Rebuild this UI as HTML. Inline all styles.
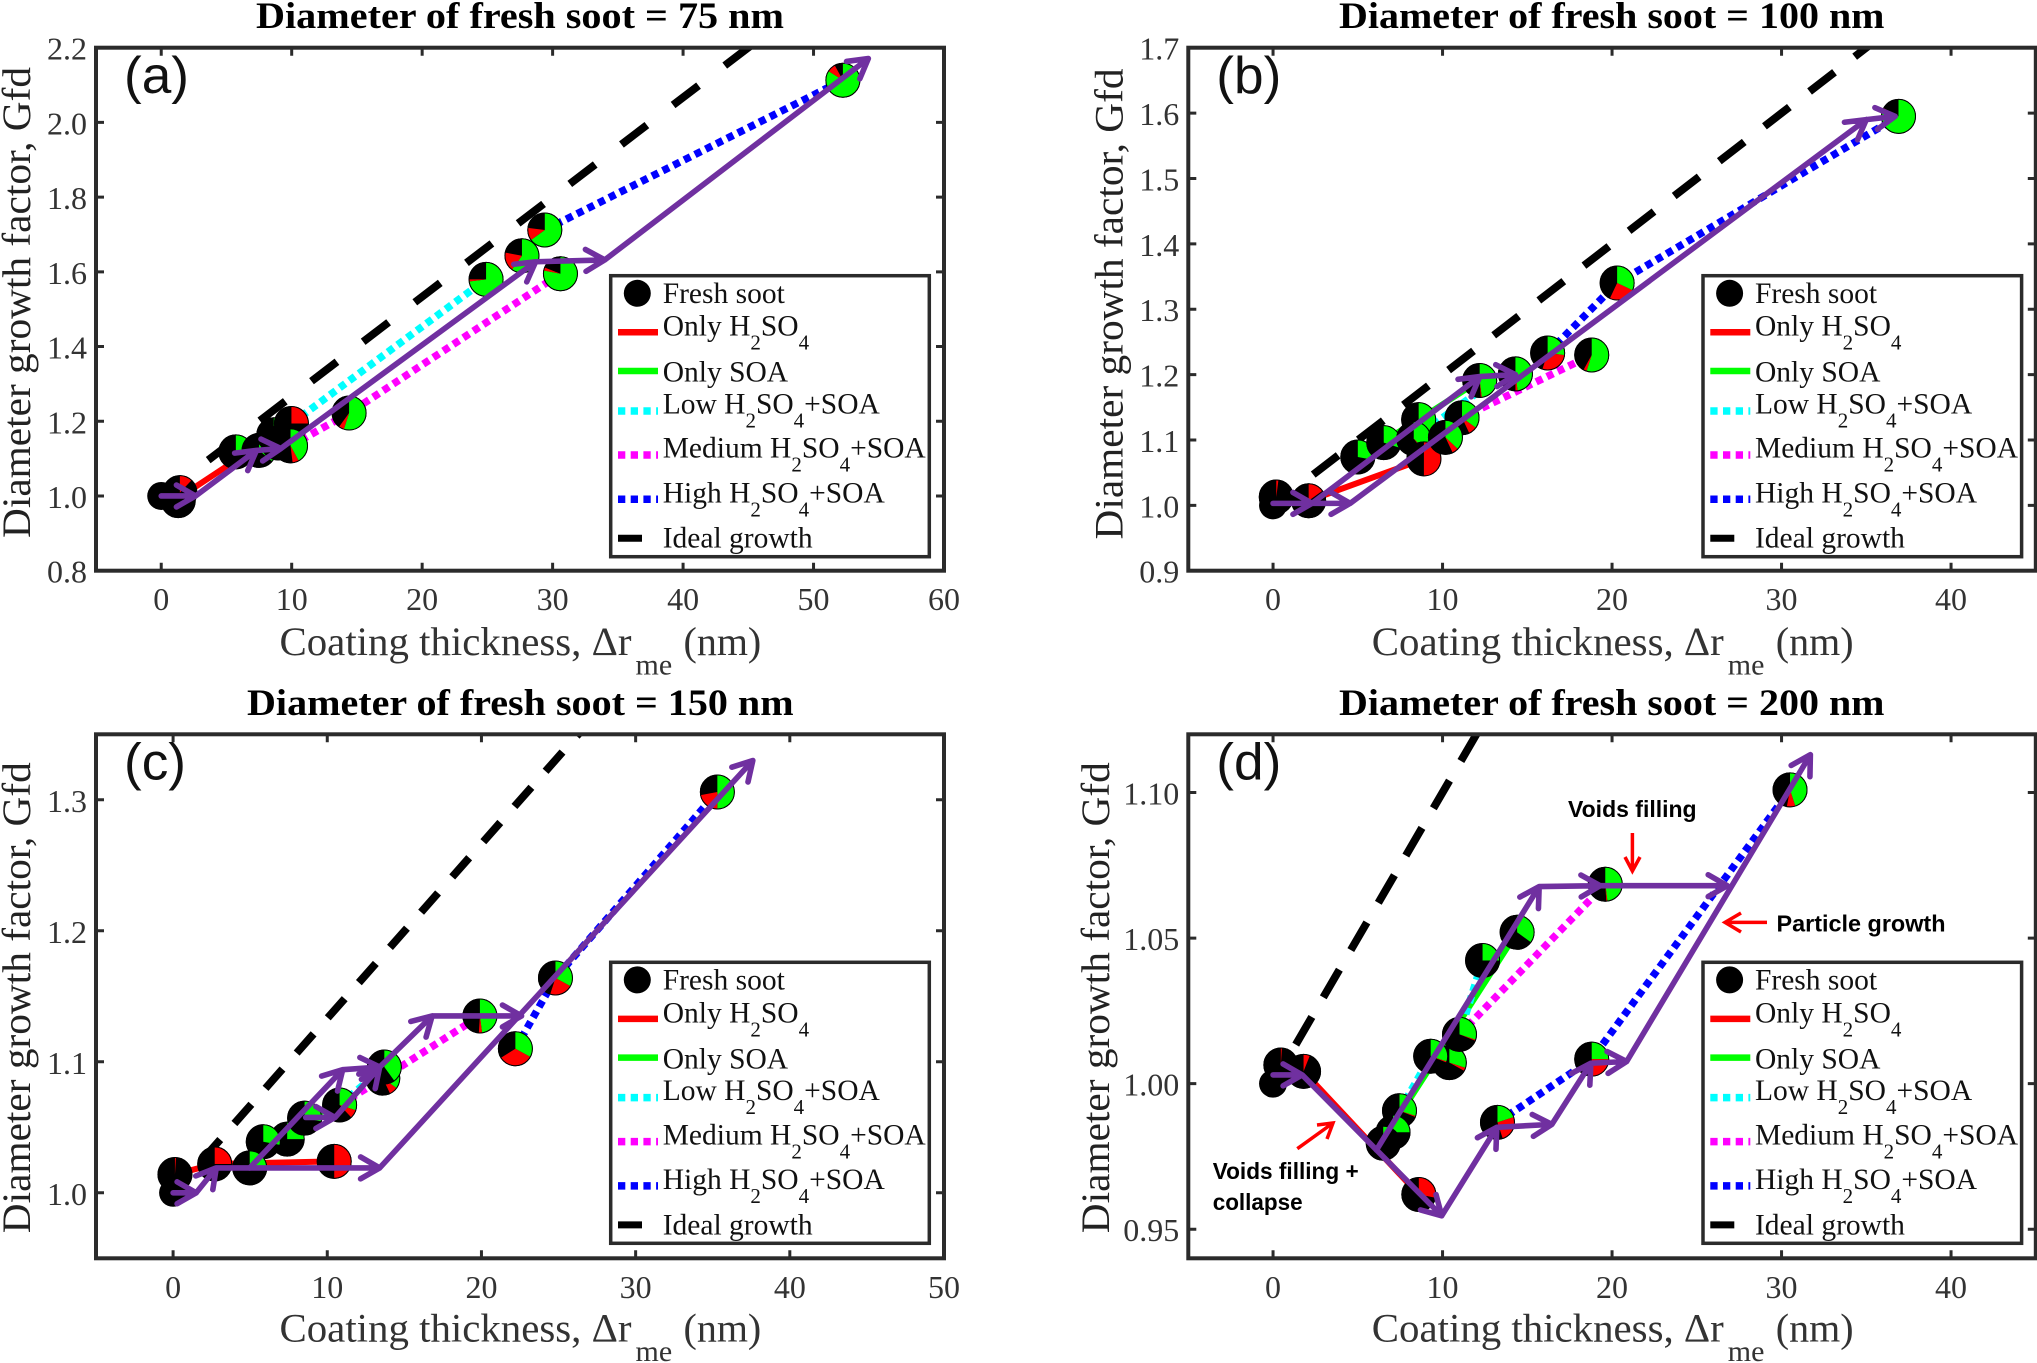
<!DOCTYPE html>
<html lang="en">
<head>
<meta charset="utf-8">
<title>Diameter growth factor vs coating thickness</title>
<style>
html,body{margin:0;padding:0;background:#fff}
svg{display:block}
text{font-family:"Liberation Serif",serif}
.title{font-size:37px;font-weight:bold;fill:#000}
.xl{font-size:40px;fill:#333}
.xs{font-size:30px;fill:#333}
.yl{font-size:40px;fill:#222}
.letter{font-family:"Liberation Sans",sans-serif;font-size:52px;fill:#111}
.lg{font-size:29.5px;fill:#111}
.note{font-family:"Liberation Sans",sans-serif;font-weight:bold;font-size:23px;fill:#000}
</style>
</head>
<body>
<svg id="figure" xmlns="http://www.w3.org/2000/svg" width="2037" height="1363" viewBox="0 0 2037 1363">
<defs>
<clipPath id="clip-a"><rect x="96" y="47.7" width="848" height="523"/></clipPath>
<clipPath id="clip-b"><rect x="1188.3" y="47.7" width="847.5" height="523"/></clipPath>
<clipPath id="clip-c"><rect x="96" y="734.3" width="848" height="524"/></clipPath>
<clipPath id="clip-d"><rect x="1188.3" y="734.3" width="847.5" height="524"/></clipPath>
</defs>

<!-- PANEL A -->
<g>
<text class="title" x="256" y="28" textLength="528" lengthAdjust="spacingAndGlyphs">Diameter of fresh soot = 75 nm</text>
<g id="marks-a"></g>
<text class="letter" x="124" y="93" textLength="65" lengthAdjust="spacingAndGlyphs">(a)</text>
<text class="xl" x="279.5" y="655" textLength="352" lengthAdjust="spacingAndGlyphs">Coating thickness, Δr</text>
<text class="xs" x="635.5" y="674.5">me</text>
<text class="xl" x="683.5" y="655">(nm)</text>
<text class="yl" transform="translate(30,302.5) rotate(-90)" text-anchor="middle" textLength="471" lengthAdjust="spacingAndGlyphs">Diameter growth factor, Gfd</text>
<g>
<rect x="610.7" y="275.7" width="318.6" height="281" fill="#fff" stroke="#2b2b2b" stroke-width="3.5"/>
<circle cx="637.3" cy="293.3" r="13.5" fill="#000"/>
<text class="lg" x="662.7" y="303">Fresh soot</text>
<line x1="618" x2="658" y1="332.3" y2="332.3" stroke="#f00" stroke-width="6.5"/>
<text class="lg" x="662.7" y="335.7">Only H<tspan dy="14" font-size="21">2</tspan><tspan dy="-14">SO</tspan><tspan dy="14" font-size="21">4</tspan></text>
<line x1="618" x2="658" y1="371" y2="371" stroke="#0f0" stroke-width="6.5"/>
<text class="lg" x="662.7" y="381.7">Only SOA</text>
<line x1="618" x2="658" y1="411" y2="411" stroke="#0ff" stroke-width="7.5" stroke-dasharray="7.3 5.4"/>
<text class="lg" x="662.7" y="413.3">Low H<tspan dy="14" font-size="21">2</tspan><tspan dy="-14">SO</tspan><tspan dy="14" font-size="21">4</tspan><tspan dy="-14">+SOA</tspan></text>
<line x1="618" x2="658" y1="455" y2="455" stroke="#f0f" stroke-width="7.5" stroke-dasharray="7.3 5.4"/>
<text class="lg" x="662.7" y="457.7">Medium H<tspan dy="14" font-size="21">2</tspan><tspan dy="-14">SO</tspan><tspan dy="14" font-size="21">4</tspan><tspan dy="-14">+SOA</tspan></text>
<line x1="618" x2="658" y1="499.3" y2="499.3" stroke="#00f" stroke-width="7.5" stroke-dasharray="7.3 5.4"/>
<text class="lg" x="662.7" y="502.3">High H<tspan dy="14" font-size="21">2</tspan><tspan dy="-14">SO</tspan><tspan dy="14" font-size="21">4</tspan><tspan dy="-14">+SOA</tspan></text>
<line x1="618" x2="642" y1="538.3" y2="538.3" stroke="#000" stroke-width="7"/>
<text class="lg" x="662.7" y="547.7">Ideal growth</text>
</g>
</g>

<!-- PANEL B -->
<g>
<text class="title" x="1339" y="28" textLength="545.5" lengthAdjust="spacingAndGlyphs">Diameter of fresh soot = 100 nm</text>
<g id="marks-b"></g>
<text class="letter" x="1216.3" y="93" textLength="65" lengthAdjust="spacingAndGlyphs">(b)</text>
<text class="xl" x="1371.8" y="655" textLength="352" lengthAdjust="spacingAndGlyphs">Coating thickness, Δr</text>
<text class="xs" x="1727.8" y="674.5">me</text>
<text class="xl" x="1775.8" y="655">(nm)</text>
<text class="yl" transform="translate(1122.6,304) rotate(-90)" text-anchor="middle" textLength="471" lengthAdjust="spacingAndGlyphs">Diameter growth factor, Gfd</text>
<g transform="translate(1092.3,0)">
<rect x="610.7" y="275.7" width="318.6" height="281" fill="#fff" stroke="#2b2b2b" stroke-width="3.5"/>
<circle cx="637.3" cy="293.3" r="13.5" fill="#000"/>
<text class="lg" x="662.7" y="303">Fresh soot</text>
<line x1="618" x2="658" y1="332.3" y2="332.3" stroke="#f00" stroke-width="6.5"/>
<text class="lg" x="662.7" y="335.7">Only H<tspan dy="14" font-size="21">2</tspan><tspan dy="-14">SO</tspan><tspan dy="14" font-size="21">4</tspan></text>
<line x1="618" x2="658" y1="371" y2="371" stroke="#0f0" stroke-width="6.5"/>
<text class="lg" x="662.7" y="381.7">Only SOA</text>
<line x1="618" x2="658" y1="411" y2="411" stroke="#0ff" stroke-width="7.5" stroke-dasharray="7.3 5.4"/>
<text class="lg" x="662.7" y="413.3">Low H<tspan dy="14" font-size="21">2</tspan><tspan dy="-14">SO</tspan><tspan dy="14" font-size="21">4</tspan><tspan dy="-14">+SOA</tspan></text>
<line x1="618" x2="658" y1="455" y2="455" stroke="#f0f" stroke-width="7.5" stroke-dasharray="7.3 5.4"/>
<text class="lg" x="662.7" y="457.7">Medium H<tspan dy="14" font-size="21">2</tspan><tspan dy="-14">SO</tspan><tspan dy="14" font-size="21">4</tspan><tspan dy="-14">+SOA</tspan></text>
<line x1="618" x2="658" y1="499.3" y2="499.3" stroke="#00f" stroke-width="7.5" stroke-dasharray="7.3 5.4"/>
<text class="lg" x="662.7" y="502.3">High H<tspan dy="14" font-size="21">2</tspan><tspan dy="-14">SO</tspan><tspan dy="14" font-size="21">4</tspan><tspan dy="-14">+SOA</tspan></text>
<line x1="618" x2="642" y1="538.3" y2="538.3" stroke="#000" stroke-width="7"/>
<text class="lg" x="662.7" y="547.7">Ideal growth</text>
</g>
</g>

<!-- PANEL C -->
<g>
<text class="title" x="247" y="714.8" textLength="546.6" lengthAdjust="spacingAndGlyphs">Diameter of fresh soot = 150 nm</text>
<g id="marks-c"></g>
<text class="letter" x="124" y="779.5" textLength="62" lengthAdjust="spacingAndGlyphs">(c)</text>
<text class="xl" x="279.5" y="1341.6" textLength="352" lengthAdjust="spacingAndGlyphs">Coating thickness, Δr</text>
<text class="xs" x="635.5" y="1361">me</text>
<text class="xl" x="683.5" y="1341.6">(nm)</text>
<text class="yl" transform="translate(30,997.7) rotate(-90)" text-anchor="middle" textLength="471" lengthAdjust="spacingAndGlyphs">Diameter growth factor, Gfd</text>
<g transform="translate(0,686.6)">
<rect x="610.7" y="275.7" width="318.6" height="281" fill="#fff" stroke="#2b2b2b" stroke-width="3.5"/>
<circle cx="637.3" cy="293.3" r="13.5" fill="#000"/>
<text class="lg" x="662.7" y="303">Fresh soot</text>
<line x1="618" x2="658" y1="332.3" y2="332.3" stroke="#f00" stroke-width="6.5"/>
<text class="lg" x="662.7" y="335.7">Only H<tspan dy="14" font-size="21">2</tspan><tspan dy="-14">SO</tspan><tspan dy="14" font-size="21">4</tspan></text>
<line x1="618" x2="658" y1="371" y2="371" stroke="#0f0" stroke-width="6.5"/>
<text class="lg" x="662.7" y="381.7">Only SOA</text>
<line x1="618" x2="658" y1="411" y2="411" stroke="#0ff" stroke-width="7.5" stroke-dasharray="7.3 5.4"/>
<text class="lg" x="662.7" y="413.3">Low H<tspan dy="14" font-size="21">2</tspan><tspan dy="-14">SO</tspan><tspan dy="14" font-size="21">4</tspan><tspan dy="-14">+SOA</tspan></text>
<line x1="618" x2="658" y1="455" y2="455" stroke="#f0f" stroke-width="7.5" stroke-dasharray="7.3 5.4"/>
<text class="lg" x="662.7" y="457.7">Medium H<tspan dy="14" font-size="21">2</tspan><tspan dy="-14">SO</tspan><tspan dy="14" font-size="21">4</tspan><tspan dy="-14">+SOA</tspan></text>
<line x1="618" x2="658" y1="499.3" y2="499.3" stroke="#00f" stroke-width="7.5" stroke-dasharray="7.3 5.4"/>
<text class="lg" x="662.7" y="502.3">High H<tspan dy="14" font-size="21">2</tspan><tspan dy="-14">SO</tspan><tspan dy="14" font-size="21">4</tspan><tspan dy="-14">+SOA</tspan></text>
<line x1="618" x2="642" y1="538.3" y2="538.3" stroke="#000" stroke-width="7"/>
<text class="lg" x="662.7" y="547.7">Ideal growth</text>
</g>
</g>

<!-- PANEL D -->
<g>
<text class="title" x="1339" y="714.8" textLength="545.5" lengthAdjust="spacingAndGlyphs">Diameter of fresh soot = 200 nm</text>
<g id="marks-d"></g>
<text class="letter" x="1216.3" y="779.5" textLength="65" lengthAdjust="spacingAndGlyphs">(d)</text>
<text class="xl" x="1371.8" y="1341.6" textLength="352" lengthAdjust="spacingAndGlyphs">Coating thickness, Δr</text>
<text class="xs" x="1727.8" y="1361">me</text>
<text class="xl" x="1775.8" y="1341.6">(nm)</text>
<text class="yl" transform="translate(1109,997.7) rotate(-90)" text-anchor="middle" textLength="471" lengthAdjust="spacingAndGlyphs">Diameter growth factor, Gfd</text>
<g transform="translate(1092.3,686.6)">
<rect x="610.7" y="275.7" width="318.6" height="281" fill="#fff" stroke="#2b2b2b" stroke-width="3.5"/>
<circle cx="637.3" cy="293.3" r="13.5" fill="#000"/>
<text class="lg" x="662.7" y="303">Fresh soot</text>
<line x1="618" x2="658" y1="332.3" y2="332.3" stroke="#f00" stroke-width="6.5"/>
<text class="lg" x="662.7" y="335.7">Only H<tspan dy="14" font-size="21">2</tspan><tspan dy="-14">SO</tspan><tspan dy="14" font-size="21">4</tspan></text>
<line x1="618" x2="658" y1="371" y2="371" stroke="#0f0" stroke-width="6.5"/>
<text class="lg" x="662.7" y="381.7">Only SOA</text>
<line x1="618" x2="658" y1="411" y2="411" stroke="#0ff" stroke-width="7.5" stroke-dasharray="7.3 5.4"/>
<text class="lg" x="662.7" y="413.3">Low H<tspan dy="14" font-size="21">2</tspan><tspan dy="-14">SO</tspan><tspan dy="14" font-size="21">4</tspan><tspan dy="-14">+SOA</tspan></text>
<line x1="618" x2="658" y1="455" y2="455" stroke="#f0f" stroke-width="7.5" stroke-dasharray="7.3 5.4"/>
<text class="lg" x="662.7" y="457.7">Medium H<tspan dy="14" font-size="21">2</tspan><tspan dy="-14">SO</tspan><tspan dy="14" font-size="21">4</tspan><tspan dy="-14">+SOA</tspan></text>
<line x1="618" x2="658" y1="499.3" y2="499.3" stroke="#00f" stroke-width="7.5" stroke-dasharray="7.3 5.4"/>
<text class="lg" x="662.7" y="502.3">High H<tspan dy="14" font-size="21">2</tspan><tspan dy="-14">SO</tspan><tspan dy="14" font-size="21">4</tspan><tspan dy="-14">+SOA</tspan></text>
<line x1="618" x2="642" y1="538.3" y2="538.3" stroke="#000" stroke-width="7"/>
<text class="lg" x="662.7" y="547.7">Ideal growth</text>
</g>
<text class="note" x="1568" y="817" textLength="128.6" lengthAdjust="spacingAndGlyphs">Voids filling</text>
<text class="note" x="1776.5" y="931.6" textLength="169" lengthAdjust="spacingAndGlyphs">Particle growth</text>
<text class="note" x="1212.7" y="1179" textLength="146" lengthAdjust="spacingAndGlyphs">Voids filling +</text>
<text class="note" x="1212.7" y="1210" textLength="90" lengthAdjust="spacingAndGlyphs">collapse</text>
<path d="M1632.4 833V871M1625 857L1632.4 871L1640 857" fill="none" stroke="#f00" stroke-width="3.5"/>
<path d="M1767 922.4H1725M1741 913L1725 922.4L1741 932" fill="none" stroke="#f00" stroke-width="3.5"/>
<path d="M1297.3 1148.7L1333 1123M1317 1125L1333 1123L1327 1139" fill="none" stroke="#f00" stroke-width="3.5"/>
</g>
</svg>

<script>
/* ---------- Panel (a): Dp = 75 nm ---------- */
const aXTicks = [0,10,20,30,40,50,60];
const aXTickLabels = ['0','10','20','30','40','50','60'];
const aYTicks = [0.8,1.0,1.2,1.4,1.6,1.8,2.0,2.2];
const aYTickLabels = ['0.8','1.0','1.2','1.4','1.6','1.8','2.0','2.2'];
const aFreshX = [0];
const aFreshY = [1.0];
const aPieX = [1.3,1.43,5.72,7.5,8.63,8.96,9.98,9.91,14.4,24.9,27.65,29.4,30.6,52.25];
const aPieY = [0.9875,1.009,1.118,1.122,1.164,1.142,1.194,1.134,1.222,1.58,1.643,1.712,1.595,2.113];
const aPieGreen = [0,0,28,36,30,42,0,42,55,73,60,65,78,84];
const aPieRed = [0,12,0,0,0,2,25,6,5,2,18,12,3,8];
const aIdealX = [3.6,46];
const aIdealY = [1.096,2.227];
const aRedX = [1.43,9.98];
const aRedY = [0.997,1.194];
const aGreenX = [5.72,8.63];
const aGreenY = [1.118,1.164];
const aLowX = [9.98,24.9];
const aLowY = [1.194,1.58];
const aMediumX = [9.91,14.4,30.6];
const aMediumY = [1.134,1.222,1.595];
const aHighX = [29.4,52.25];
const aHighY = [1.712,2.113];
const aArrowX = [0,2.63,7.3,9.17,28.7,34,54.2];
const aArrowY = [1.0,1.0,1.122,1.127,1.627,1.632,2.171];

/* ---------- Panel (b): Dp = 100 nm ---------- */
const bXTicks = [0,10,20,30,40];
const bXTickLabels = ['0','10','20','30','40'];
const bYTicks = [0.9,1.0,1.1,1.2,1.3,1.4,1.5,1.6,1.7];
const bYTickLabels = ['0.9','1.0','1.1','1.2','1.3','1.4','1.5','1.6','1.7'];
const bFreshX = [0];
const bFreshY = [1.0];
const bPieX = [0.19,2.1,5,6.53,8.59,8.3,8.9,11.15,10.17,12.19,14.3,16.2,18.8,20.3,36.9];
const bPieY = [1.0128,1.007,1.074,1.096,1.131,1.102,1.071,1.134,1.104,1.191,1.201,1.233,1.23,1.34,1.595];
const bPieGreen = [0,0,28,30,40,38,0,35,37,48,48,27,55,32,80];
const bPieRed = [2,15,0,0,0,2,50,8,6,1,2,28,3,25,3];
const bIdealX = [2.37,35.5];
const bIdealY = [1.047,1.71];
const bRedX = [2.1,8.9];
const bRedY = [1.007,1.071];
const bGreenX = [5,8.59,12.19];
const bGreenY = [1.074,1.131,1.191];
const bLowX = [8.3,12.19];
const bLowY = [1.102,1.175];
const bMediumX = [10.17,11.15,18.8];
const bMediumY = [1.104,1.134,1.23];
const bHighX = [16.2,20.3,36.9];
const bHighY = [1.233,1.34,1.595];
const bArrow1X = [0,2.3,12.2,14.3];
const bArrow1Y = [1.003,1.003,1.197,1.2];
const bArrow2X = [2.3,4.55,35,36.7];
const bArrow2Y = [1.003,1.003,1.59,1.595];

/* ---------- Panel (c): Dp = 150 nm ---------- */
const cXTicks = [0,10,20,30,40,50];
const cXTickLabels = ['0','10','20','30','40','50'];
const cYTicks = [1.0,1.1,1.2,1.3];
const cYTickLabels = ['1.0','1.1','1.2','1.3'];
const cFreshX = [0];
const cFreshY = [1.0];
const cPieX = [0.12,2.7,7.4,5.85,4.97,8.53,10.8,10.45,13.6,13.7,19.9,22.2,24.8,35.3];
const cPieY = [1.014,1.022,1.041,1.039,1.019,1.057,1.067,1.024,1.0875,1.096,1.135,1.11,1.164,1.306];
const cPieGreen = [0,0,25,28,25,28,30,0,35,40,48,33,33,50];
const cPieRed = [1,25,0,0,0,0,8,50,8,0,3,33,22,22];
const cIdealX = [1.96,26.5];
const cIdealY = [1.026,1.353];
const cRedX = [0.12,2.7,10.45];
const cRedY = [1.014,1.022,1.024];
const cGreenX = [4.97,8.53,10.8];
const cGreenY = [1.019,1.057,1.067];
const cLowX = [10.8,13.7];
const cLowY = [1.067,1.096];
const cMediumX = [10.8,13.6,19.9];
const cMediumY = [1.067,1.0875,1.135];
const cHighX = [22.2,24.8,35.3];
const cHighY = [1.11,1.164,1.306];
const cArrow1X = [0,1.5,2.8,13.4,37.6];
const cArrow1Y = [1.0,1.0,1.019,1.019,1.33];
const cArrow2X = [4.97,11,13.4,16.8,22.6];
const cArrow2Y = [1.019,1.094,1.096,1.135,1.135];
const cArrow3X = [8.6,10.5,13.4];
const cArrow3Y = [1.0575,1.0575,1.096];

/* ---------- Panel (d): Dp = 200 nm ---------- */
const dXTicks = [0,10,20,30,40];
const dXTickLabels = ['0','10','20','30','40'];
const dYTicks = [0.95,1.00,1.05,1.10];
const dYTickLabels = ['0.95','1.00','1.05','1.10'];
const dFreshX = [0];
const dFreshY = [1.0];
const dPieX = [0.46,1.8,7.46,7.08,6.5,8.6,10.4,9.3,11,12.36,14.4,19.6,18.8,13.24,30.5];
const dPieY = [1.0064,1.0042,0.9907,0.9833,0.9795,0.9619,1.0072,1.0094,1.0169,1.0423,1.052,1.0685,1.0084,0.9867,1.1009];
const dPieGreen = [0,0,30,25,5,0,30,30,30,25,35,48,25,20,45];
const dPieRed = [1,6,1,0,0,28,3,1,1,0,0,1,25,25,8];
const dIdealX = [1.34,12.5];
const dIdealY = [1.0134,1.125];
const dRedX = [0.46,1.8,8.6];
const dRedY = [1.0064,1.0042,0.9619];
const dGreenX = [7,14.4];
const dGreenY = [0.985,1.052];
const dLowX = [7.46,9.3,11,12.36];
const dLowY = [0.9907,1.0094,1.0169,1.0423];
const dMediumX = [11,19.6];
const dMediumY = [1.0169,1.0685];
const dHighX = [13.24,18.8,30.5];
const dHighY = [0.9867,1.0084,1.1009];
const dArrow1X = [0,1.72,9.95,13.2,16.45,18.75,20.86,31.7];
const dArrow1Y = [1.003,1.003,0.9546,0.985,0.986,1.007,1.0076,1.113];
const dArrow2X = [6.1,15.7,19.3,26.8];
const dArrow2Y = [0.9772,1.0677,1.068,1.068];

const NS = 'http://www.w3.org/2000/svg';
const INK = '#2b2b2b';
const PURPLE = '#7030a0';

function make(parent, tag, attrs) {
  const el = document.createElementNS(NS, tag);
  for (const k in attrs) el.setAttribute(k, attrs[k]);
  parent.appendChild(el);
  return el;
}

function drawPanel(cfg) {
  const root = document.getElementById('marks-' + cfg.id);
  const xOf = v => cfg.L + (v - cfg.xMin) / (cfg.xMax - cfg.xMin) * (cfg.R - cfg.L);
  const yOf = v => cfg.B - (v - cfg.yMin) / (cfg.yMax - cfg.yMin) * (cfg.B - cfg.T);
  const pathOf = (xs, ys) => xs.map((x, i) => (i ? 'L' : 'M') + xOf(x).toFixed(2) + ' ' + yOf(ys[i]).toFixed(2)).join('');

  const ideal = make(root, 'path', {d: pathOf(cfg.idealX, cfg.idealY), fill: 'none', stroke: '#000', 'stroke-width': 7.8, 'stroke-dasharray': cfg.dash, 'clip-path': 'url(#clip-' + cfg.id + ')'});
  
  

  cfg.series.forEach(s => {
    const line = make(root, 'path', {d: pathOf(s.x, s.y), fill: 'none', stroke: s.color, 'stroke-width': s.dotted ? 7.5 : 6, 'stroke-dasharray': s.dotted ? '7 5' : 'none'});
    
    
  });

  cfg.freshX.forEach((x, i) => {
    const fresh = make(root, 'circle', {cx: xOf(x), cy: yOf(cfg.freshY[i]), r: 14, fill: '#000'});
    
    
  });

  cfg.pieX.forEach((x, i) => {
    const cx = xOf(x), cy = yOf(cfg.pieY[i]), r = 17;
    const pie = make(root, 'g', {});
    
    
    make(pie, 'circle', {cx: cx, cy: cy, r: r, fill: '#000', stroke: '#000', 'stroke-width': 1});
    const wedge = (from, share, color) => {
      if (share <= 0) return;
      const a0 = from / 100 * 2 * Math.PI, a1 = (from + share) / 100 * 2 * Math.PI;
      const d = 'M' + cx + ' ' + cy + 'L' + (cx + r * Math.sin(a0)) + ' ' + (cy - r * Math.cos(a0)) +
        'A' + r + ' ' + r + ' 0 ' + (share > 50 ? 1 : 0) + ' 1 ' + (cx + r * Math.sin(a1)) + ' ' + (cy - r * Math.cos(a1)) + 'Z';
      make(pie, 'path', {d: d, fill: color});
    };
    wedge(0, cfg.pieGreen[i], '#0f0');
    wedge(cfg.pieGreen[i], cfg.pieRed[i], '#f00');
    make(pie, 'circle', {cx: cx, cy: cy, r: r, fill: 'none', stroke: '#000', 'stroke-width': 1});
  });

  cfg.arrows.forEach(a => {
    let d = '';
    a.x.forEach((x, i) => {
      const px = xOf(x), py = yOf(a.y[i]);
      if (i === 0) { d += 'M' + px + ' ' + py; return; }
      const qx = xOf(a.x[i - 1]), qy = yOf(a.y[i - 1]);
      const ang = Math.atan2(py - qy, px - qx);
      d += 'M' + qx + ' ' + qy + 'L' + px + ' ' + py;
      [-0.52, 0.52].forEach(off => {
        d += 'M' + px + ' ' + py + 'L' + (px - 22 * Math.cos(ang + off)) + ' ' + (py - 22 * Math.sin(ang + off));
      });
    });
    const arrow = make(root, 'path', {d: d, fill: 'none', stroke: PURPLE, 'stroke-width': 5.6, 'stroke-linecap': 'round', 'stroke-linejoin': 'round'});
    
    
  });

  const frame = make(root, 'rect', {x: cfg.L, y: cfg.T, width: cfg.R - cfg.L, height: cfg.B - cfg.T, fill: 'none', stroke: INK, 'stroke-width': 4});
  
  

  cfg.xTicks.forEach((v, i) => {
    const px = xOf(v);
    const tick = make(root, 'path', {d: 'M' + px + ' ' + cfg.B + 'v-8M' + px + ' ' + cfg.T + 'v8', stroke: INK, 'stroke-width': 3});
    
    
    const label = make(root, 'text', {x: px, y: cfg.B + 39.5, 'text-anchor': 'middle', 'font-size': 32, fill: '#333'});
    label.textContent = cfg.xTickLabels[i];
    
    
  });
  cfg.yTicks.forEach((v, i) => {
    const py = yOf(v);
    const tick = make(root, 'path', {d: 'M' + cfg.L + ' ' + py + 'h8M' + cfg.R + ' ' + py + 'h-8', stroke: INK, 'stroke-width': 3});
    
    
    const label = make(root, 'text', {x: cfg.L - 9, y: py + 12, 'text-anchor': 'end', 'font-size': 32, fill: '#333'});
    label.textContent = cfg.yTickLabels[i];
    
    
  });
}

function seriesOf(rx, ry, gx, gy, lx, ly, mx, my, hx, hy) {
  return [
    {name: 'only-h2so4-line', color: '#f00', x: rx, y: ry},
    {name: 'only-soa-line', color: '#0f0', x: gx, y: gy},
    {name: 'low-h2so4-soa-line', color: '#0ff', dotted: true, x: lx, y: ly},
    {name: 'medium-h2so4-soa-line', color: '#f0f', dotted: true, x: mx, y: my},
    {name: 'high-h2so4-soa-line', color: '#00f', dotted: true, x: hx, y: hy}
  ];
}

drawPanel({id: 'a', L: 96, R: 944, T: 47.7, B: 570.7, xMin: -5, xMax: 60, yMin: 0.8, yMax: 2.2, dash: '32 33',
  xTicks: aXTicks, xTickLabels: aXTickLabels, yTicks: aYTicks, yTickLabels: aYTickLabels,
  freshX: aFreshX, freshY: aFreshY, pieX: aPieX, pieY: aPieY, pieGreen: aPieGreen, pieRed: aPieRed,
  idealX: aIdealX, idealY: aIdealY,
  series: seriesOf(aRedX, aRedY, aGreenX, aGreenY, aLowX, aLowY, aMediumX, aMediumY, aHighX, aHighY),
  arrows: [{x: aArrowX, y: aArrowY}]});

drawPanel({id: 'b', L: 1188.3, R: 2035.8, T: 47.7, B: 570.7, xMin: -5, xMax: 45, yMin: 0.9, yMax: 1.7, dash: '31.5 25.5',
  xTicks: bXTicks, xTickLabels: bXTickLabels, yTicks: bYTicks, yTickLabels: bYTickLabels,
  freshX: bFreshX, freshY: bFreshY, pieX: bPieX, pieY: bPieY, pieGreen: bPieGreen, pieRed: bPieRed,
  idealX: bIdealX, idealY: bIdealY,
  series: seriesOf(bRedX, bRedY, bGreenX, bGreenY, bLowX, bLowY, bMediumX, bMediumY, bHighX, bHighY),
  arrows: [{x: bArrow1X, y: bArrow1Y}, {x: bArrow2X, y: bArrow2Y}]});

drawPanel({id: 'c', L: 96, R: 944, T: 734.3, B: 1258.3, xMin: -5, xMax: 50, yMin: 0.95, yMax: 1.35, dash: '25.6 21.4',
  xTicks: cXTicks, xTickLabels: cXTickLabels, yTicks: cYTicks, yTickLabels: cYTickLabels,
  freshX: cFreshX, freshY: cFreshY, pieX: cPieX, pieY: cPieY, pieGreen: cPieGreen, pieRed: cPieRed,
  idealX: cIdealX, idealY: cIdealY,
  series: seriesOf(cRedX, cRedY, cGreenX, cGreenY, cLowX, cLowY, cMediumX, cMediumY, cHighX, cHighY),
  arrows: [{x: cArrow1X, y: cArrow1Y}, {x: cArrow2X, y: cArrow2Y}, {x: cArrow3X, y: cArrow3Y}]});

drawPanel({id: 'd', L: 1188.3, R: 2035.8, T: 734.3, B: 1258.3, xMin: -5, xMax: 45, yMin: 0.94, yMax: 1.12, dash: '32 22.7',
  xTicks: dXTicks, xTickLabels: dXTickLabels, yTicks: dYTicks, yTickLabels: dYTickLabels,
  freshX: dFreshX, freshY: dFreshY, pieX: dPieX, pieY: dPieY, pieGreen: dPieGreen, pieRed: dPieRed,
  idealX: dIdealX, idealY: dIdealY,
  series: seriesOf(dRedX, dRedY, dGreenX, dGreenY, dLowX, dLowY, dMediumX, dMediumY, dHighX, dHighY),
  arrows: [{x: dArrow1X, y: dArrow1Y}, {x: dArrow2X, y: dArrow2Y}]});
</script>
</body>
</html>
